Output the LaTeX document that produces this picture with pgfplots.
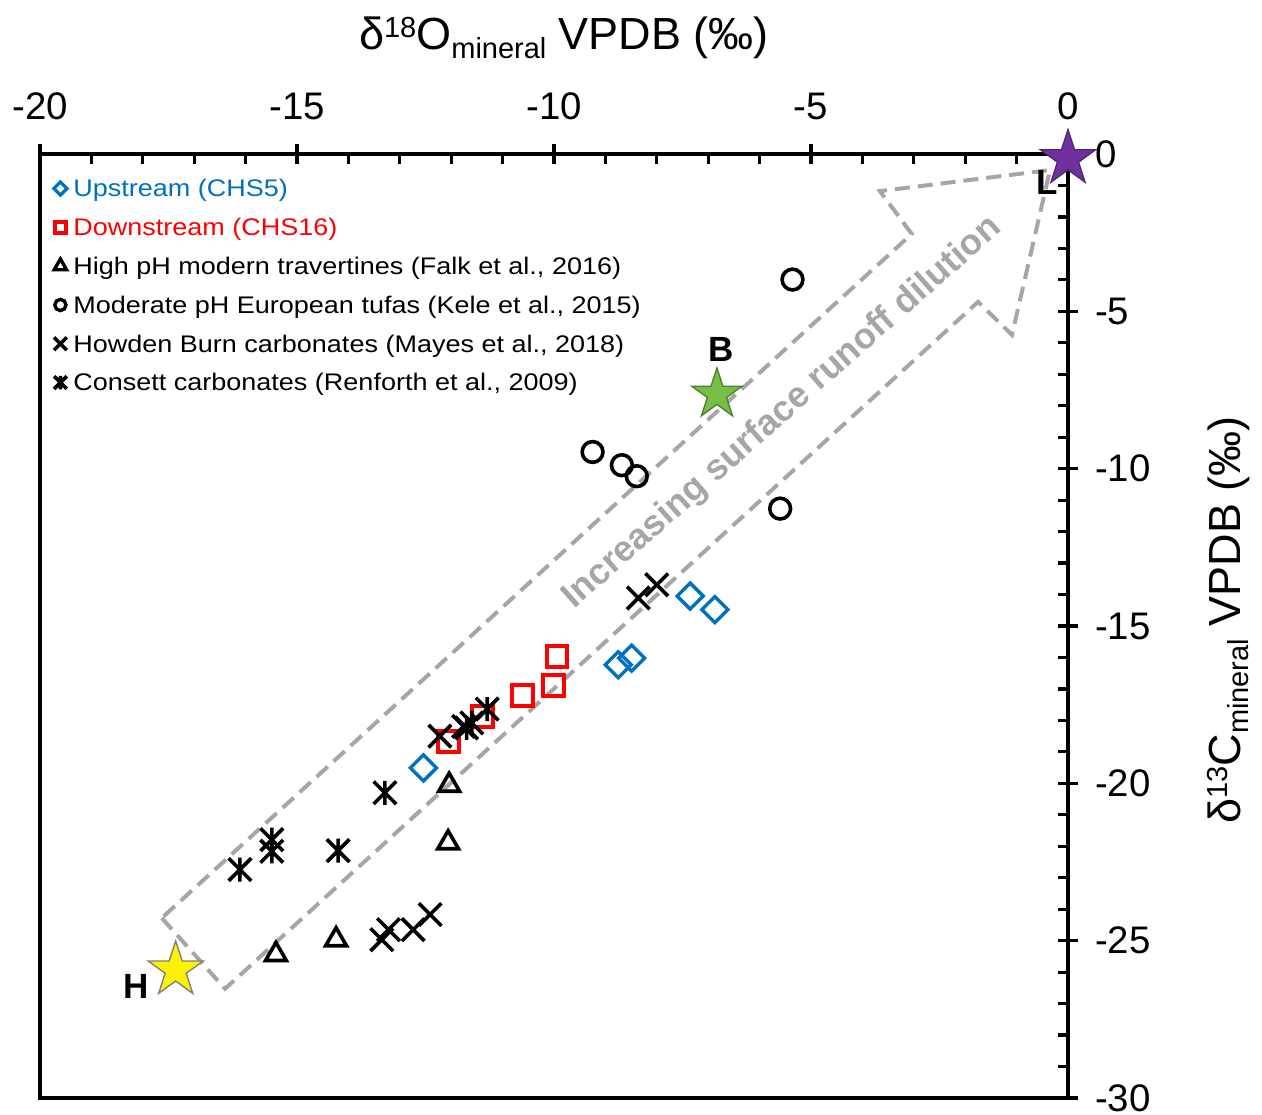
\documentclass[border=0pt]{standalone}
\usepackage{fontspec}
\setmainfont{Liberation Sans}
\newfontfamily\legendfont[FakeStretch=1.125]{Liberation Sans}
\usepackage{pgfplots}
\pgfplotsset{compat=1.18}

\definecolor{upblue}{RGB}{0,112,192}
\definecolor{arrowgray}{RGB}{166,166,166}
\definecolor{bgreen}{RGB}{118,190,70}
\definecolor{bgreenD}{RGB}{80,130,50}
\definecolor{lpurple}{RGB}{112,48,160}
\definecolor{lpurpleD}{RGB}{80,40,110}

\pgfdeclareplotmark{fstar}{%
  \pgfpathmoveto{\pgfpointpolar{90}{\pgfplotmarksize}}%
  \pgfpathlineto{\pgfpointpolar{126}{0.382*\pgfplotmarksize}}%
  \pgfpathlineto{\pgfpointpolar{162}{\pgfplotmarksize}}%
  \pgfpathlineto{\pgfpointpolar{198}{0.382*\pgfplotmarksize}}%
  \pgfpathlineto{\pgfpointpolar{234}{\pgfplotmarksize}}%
  \pgfpathlineto{\pgfpointpolar{270}{0.382*\pgfplotmarksize}}%
  \pgfpathlineto{\pgfpointpolar{306}{\pgfplotmarksize}}%
  \pgfpathlineto{\pgfpointpolar{342}{0.382*\pgfplotmarksize}}%
  \pgfpathlineto{\pgfpointpolar{18}{\pgfplotmarksize}}%
  \pgfpathlineto{\pgfpointpolar{54}{0.382*\pgfplotmarksize}}%
  \pgfpathclose
  \pgfusepathqfillstroke}

\pgfdeclareplotmark{xast}{%
  \pgfsetbuttcap
  \pgfpathmoveto{\pgfqpoint{-.7071\pgfplotmarksize}{-.7071\pgfplotmarksize}}%
  \pgfpathlineto{\pgfqpoint{.7071\pgfplotmarksize}{.7071\pgfplotmarksize}}%
  \pgfpathmoveto{\pgfqpoint{-.7071\pgfplotmarksize}{.7071\pgfplotmarksize}}%
  \pgfpathlineto{\pgfqpoint{.7071\pgfplotmarksize}{-.7071\pgfplotmarksize}}%
  \pgfpathmoveto{\pgfqpoint{0pt}{.75\pgfplotmarksize}}%
  \pgfpathlineto{\pgfqpoint{0pt}{-.75\pgfplotmarksize}}%
  \pgfusepathqstroke}

\pgfplotsset{mylegimg/.style={legend image code/.code={\path[draw=none,fill=none] (-3.5pt,-3.5pt) rectangle (3.5pt,3.5pt); \draw[##1] plot coordinates {(0pt,0pt)};}}}

\newcommand{\sups}[1]{{\fontsize{14.5}{14.5}\selectfont\raisebox{6.2pt}{#1}}}
\newcommand{\subs}[1]{{\fontsize{14.5}{14.5}\selectfont\raisebox{-4.2pt}{#1}}}

\begin{document}
\begin{tikzpicture}
\begin{axis}[
  scale only axis, width=514pt, height=472pt,
  xmin=-20, xmax=0, ymin=-30, ymax=0,
  clip=false,
  axis line style={line width=1.6pt},
  every tick/.style={black, line width=1.6pt},
  xtick={-20,-15,...,0}, ytick={-30,-25,...,0},
  minor x tick num=4, minor y tick num=4,
  xtick pos=right, xticklabel pos=right,
  ytick pos=right, yticklabel pos=right,
  tick align=inside, major tick length=5pt, minor tick length=5pt,
  extra x ticks={-20,-15,-10,-5,0}, extra x tick labels={},
  extra x tick style={tick align=outside, major tick length=5pt},
  extra y ticks={-30,-25,-20,-15,-10,-5,0}, extra y tick labels={},
  extra y tick style={tick align=outside, major tick length=5pt},
  /pgf/number format/assume math mode=true,
  ticklabel style={font=\fontsize{19.2}{19.2}\selectfont},
  xticklabel shift=13.5pt, yticklabel shift=10pt,
  label style={font=\fontsize{22.5}{22.5}\selectfont},
  xlabel={δ\sups{18}O\subs{mineral} VPDB (‰)},
  ylabel={δ\sups{13}C\subs{mineral} VPDB (‰)},
  xlabel style={at={(axis description cs:0.5,1)}, anchor=base, yshift=52pt, xshift=5pt},
  ylabel style={at={(axis description cs:1,0.5)}, anchor=base, yshift=-86pt, xshift=3pt},
  legend style={at={(axis description cs:0,1)}, anchor=north west, xshift=6.5pt, yshift=-7.4pt,
    draw=none, fill=none, inner sep=0pt, row sep=0pt, column sep=3pt,
    font=\legendfont\fontsize{12}{12}\selectfont,
    nodes={inner sep=0pt, text height=13.9pt, text depth=5.5pt}},
  legend cell align=left,
]
% arrow
\addplot[forget plot, draw=arrowgray, line width=2pt, dash pattern=on 7.5pt off 4pt, mark=none]
  coordinates {(-17.63,-24.28) (-16.40,-26.53) (-1.75,-4.70) (-1.09,-5.75) (-0.35,-0.51) (-3.66,-1.18) (-3.04,-2.54) (-17.63,-24.28)};
\node[rotate=41.5, text=arrowgray, font=\bfseries\fontsize{18}{18}\selectfont] at (axis cs:-5.56,-8.23) {Increasing surface runoff dilution};

% Upstream
\addplot[only marks, color=upblue, mark=square, mark size=4.6pt,
  mark options={rotate=45, draw=upblue, line width=1.7pt, fill=none}, mylegimg,
  legend image post style={mark size=2.3pt, mark options={rotate=45, draw=upblue, line width=1.6pt, fill=none}}]
  coordinates {(-7.35,-14.05) (-6.87,-14.48) (-8.75,-16.23) (-8.49,-16.02) (-12.54,-19.51)};
\addlegendentry{\textcolor{upblue}{Upstream (CHS5)}}

% Downstream
\addplot[only marks, color=red, mark=square, mark size=5.2pt,
  mark options={draw=red, line width=2pt, fill=none}, mylegimg,
  legend image post style={mark size=2.8pt, mark options={draw=red, line width=1.8pt, fill=none}}]
  coordinates {(-9.94,-15.96) (-10.01,-16.88) (-10.62,-17.21) (-11.39,-17.87) (-12.06,-18.66)};
\addlegendentry{\textcolor{red}{Downstream (CHS16)}}

% Falk travertines
\addplot[only marks, color=black, mark=triangle, mark size=6pt,
  mark options={draw=black, line width=1.8pt, fill=none}, mylegimg,
  legend image post style={mark size=3.6pt, mark options={draw=black, line width=1.7pt, fill=none}}]
  coordinates {(-12.04,-20.06) (-12.06,-21.89) (-14.24,-24.97) (-15.41,-25.44)};
\addlegendentry{High pH modern travertines (Falk et al., 2016)}

% Kele tufas
\addplot[only marks, color=black, mark=o, mark size=5.2pt,
  mark options={draw=black, line width=1.8pt, fill=none}, mylegimg,
  legend image post style={mark size=2.8pt, mark options={draw=black, line width=1.7pt, fill=none}}]
  coordinates {(-5.36,-3.99) (-9.25,-9.47) (-8.68,-9.89) (-8.39,-10.24) (-5.60,-11.27)};
\addlegendentry{Moderate pH European tufas (Kele et al., 2015)}

% Howden Burn
\addplot[only marks, color=black, mark=x, mark size=8pt,
  mark options={draw=black, line width=1.8pt}, mylegimg,
  legend image post style={mark size=4.5pt, mark options={draw=black, line width=1.8pt}}]
  coordinates {(-8.36,-14.11) (-8.00,-13.69) (-12.22,-18.50) (-11.76,-18.19)
               (-13.35,-24.97) (-13.22,-24.65) (-12.74,-24.65) (-12.41,-24.17)};
\addlegendentry{Howden Burn carbonates (Mayes et al., 2018)}

% Consett
\addplot[only marks, color=black, mark=xast, mark size=8pt,
  mark options={draw=black, line width=1.8pt}, mylegimg,
  legend image post style={mark size=4.5pt, mark options={draw=black, line width=1.8pt}}]
  coordinates {(-16.11,-22.74) (-15.49,-21.79) (-15.49,-22.16) (-14.20,-22.14)
               (-13.29,-20.30) (-11.30,-17.64) (-11.60,-18.08) (-11.70,-18.24)};
\addlegendentry{Consett carbonates (Renforth et al., 2009)}

% end-member stars
\addplot[forget plot, only marks, mark=fstar, mark size=14.5pt,
  mark options={fill=yellow, draw=gray, line width=0.7pt}]
  coordinates {(-17.36,-25.93)};
\addplot[forget plot, only marks, mark=fstar, mark size=13.2pt,
  mark options={fill=bgreen, draw=bgreenD, line width=0.7pt}]
  coordinates {(-6.83,-7.64)};
\addplot[forget plot, only marks, mark=fstar, mark size=14.5pt,
  mark options={fill=lpurple, draw=lpurpleD, line width=0.7pt}]
  coordinates {(0,-0.15)};

\node[font=\bfseries\fontsize{17.5}{17.5}\selectfont] at (axis cs:-6.74,-6.22) {B};
\node[font=\bfseries\fontsize{17.5}{17.5}\selectfont] at (axis cs:-0.41,-0.92) {L};
\node[font=\bfseries\fontsize{17.5}{17.5}\selectfont] at (axis cs:-18.12,-26.45) {H};
\end{axis}
\pgfresetboundingbox
\path[use as bounding box] ([xshift=-20pt,yshift=-8.5pt]current axis.south west) rectangle ([xshift=97pt,yshift=77pt]current axis.north east);
\end{tikzpicture}
\end{document}
